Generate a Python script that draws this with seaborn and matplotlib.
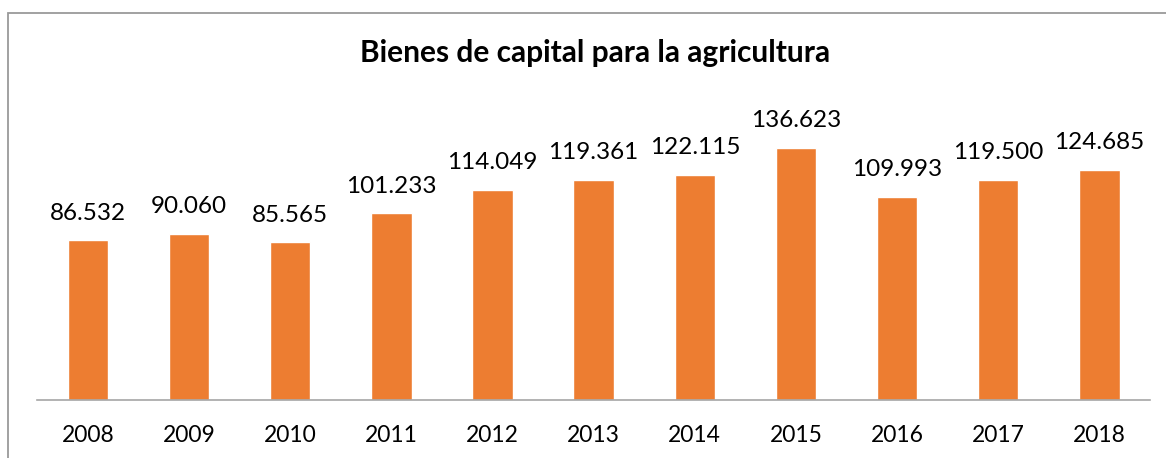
import matplotlib
matplotlib.use("Agg")
import matplotlib.pyplot as plt
import seaborn as sns
import pandas as pd
from matplotlib.patches import Rectangle

years = ["2008", "2009", "2010", "2011", "2012", "2013", "2014", "2015", "2016", "2017", "2018"]
values = [86.532, 90.060, 85.565, 101.233, 114.049, 119.361, 122.115, 136.623, 109.993, 119.500, 124.685]
labels = ["86.532", "90.060", "85.565", "101.233", "114.049", "119.361", "122.115", "136.623", "109.993", "119.500", "124.685"]
title = "Bienes de capital para la agricultura"

sns.set_theme(style="white")
plt.rcParams['font.family'] = ['Lato', 'DejaVu Sans']

df = pd.DataFrame({"year": years, "value": values})

W, H = 1166, 458
fig = plt.figure(figsize=(W / 100, H / 100), dpi=100)
fig.patch.set_facecolor("white")

left = 37.3 / W
right = 1150 / W
bottom = 1 - 400 / H
top_px = 400 - 160 * (252 / 136.623)
ax = fig.add_axes([left, bottom, right - left, (400 - top_px) / H])

sns.barplot(data=df, x="year", y="value", color="#ED7D31", saturation=1, width=0.4, ax=ax)
ax.set_ylim(0, 160)
ax.set_xlim(-0.5, len(years) - 0.5)

for c in ax.containers:
    ax.bar_label(c, labels=labels, padding=12, fontsize=17.5, color="#000000")

ax.set_xlabel("")
ax.set_ylabel("")
ax.set_yticks([])
for s in ["top", "right", "left"]:
    ax.spines[s].set_visible(False)
ax.spines["bottom"].set_color("#A6A6A6")
ax.spines["bottom"].set_linewidth(1.2)
ax.tick_params(axis="x", length=0, pad=18, labelsize=16.5, labelcolor="#000000")

fig.text(595 / W, 1 - 53 / H, title, ha="center", va="center", fontsize=21.5, fontweight="bold", color="#000000")

rect = Rectangle((8 / W, -0.1), 1.2, 1 - 13 / H + 0.1, transform=fig.transFigure,
                 fill=False, edgecolor="#9A9A9A", linewidth=1.3, clip_on=False)
fig.patches.append(rect)

fig.savefig("out.png", dpi=100, facecolor="white")
